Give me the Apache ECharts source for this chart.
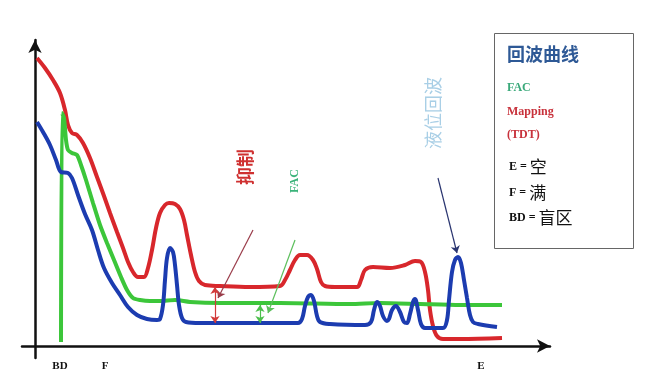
<!DOCTYPE html>
<html><head><meta charset="utf-8">
<script src="https://cdn.jsdelivr.net/npm/echarts@6/dist/echarts.min.js"></script>
<style>html,body{margin:0;padding:0;background:#fff}#c{width:660px;height:384px}</style>
</head><body><div id="c"></div>
<script>
// Echo curves (x: distance, y: amplitude) in arbitrary units
const redCurve = [[2,288],[10,278],[18,266],[25,253],[30,236],[33,221],[37,213],[42,211],[48,203],[55,188],[62,169],[69,150],[75,133],[82,114],[88,98],[93,84],[98,74],[103,69],[109,69],[113,78],[117,96],[121,118],[125,133],[130,141],[134,143],[140,142],[145,137],[149,126],[152,111],[156,91],[160,74],[164,65],[170,61],[185,60],[215,59],[245,60],[250,66],[255,76],[260,86],[265,91],[272,91],[278,86],[282,77],[286,64],[290,60],[300,59],[322,59],[326,66],[330,76],[338,79],[355,78],[370,81],[380,85],[386,84],[390,74],[393,56],[395,36],[398,20],[402,10],[408,7],[425,7],[467,8]];
const greenCurve = [[26,4],[27,233],[29,228],[31,206],[33,196],[37,193],[42,191],[46,181],[51,166],[58,143],[65,121],[72,103],[79,86],[86,69],[92,56],[98,48],[105,46],[115,45],[125,45],[140,46],[155,44],[185,43],[245,43],[315,42],[345,43],[385,42],[425,41],[467,41]];
const blueCurve = [[2,224],[8,214],[15,201],[21,186],[26,174],[33,173],[37,168],[43,151],[50,132],[57,116],[63,96],[69,78],[77,63],[85,51],[93,39],[102,31],[112,27],[122,26],[125,27],[128,41],[130,66],[132,88],[135,98],[138,94],[140,81],[142,61],[144,41],[147,28],[151,24],[165,23],[215,23],[263,23],[267,27],[270,40],[273,49],[276,51],[279,45],[282,30],[285,24],[295,22],[330,21],[336,24],[339,36],[342,44],[345,40],[348,30],[352,25],[354,27],[357,36],[361,40],[365,34],[369,24],[372,23],[375,32],[378,44],[380,47],[383,36],[386,22],[390,18],[408,18],[412,26],[414,46],[417,74],[420,86],[423,89],[426,83],[429,66],[432,48],[435,31],[438,24],[443,22],[462,19]];
// x-axis tick labels
const tickValues = [25, 70, 446];
const tickNames = ['BD', 'F', 'E'];
// annotation arrows [from, to]
const suppressArrow = [[218,116],[183,48]];
const facArrow = [[260,106],[233,33]];
const levelArrow = [[403,168],[422,93]];
const suppressGap = [[180,59],[180,23]];
const facGap = [[225,41],[225,23]];

const serif = '"Liberation Serif","DejaVu Serif",serif';
const cjk = '"Noto Sans CJK SC","Noto Sans",sans-serif';

function arrowLine(pair, color, width, symbols) {
  return [{coord: pair[0], symbol: symbols[0], lineStyle: {color: color, width: width, type: 'solid'}},
          {coord: pair[1], symbol: symbols[1]}];
}

const chart = echarts.init(document.getElementById('c'), null, {renderer: 'canvas'});
chart.setOption({
  animation: false,
  backgroundColor: '#fff',
  grid: {left: 22, right: 110, top: 40, bottom: 26},
  xAxis: {
    type: 'value', min: -13, max: 515,
    splitLine: {show: false},
    axisTick: {show: false},
    axisLine: {onZero: true, symbol: ['none', 'arrow'], symbolSize: [10, 13], lineStyle: {color: '#111', width: 2.5}},
    axisLabel: {
      customValues: tickValues, margin: 3,
      color: '#111', fontFamily: serif, fontWeight: 'bold', fontSize: 11,
      formatter: v => tickNames[tickValues.indexOf(v)] || ''
    }
  },
  yAxis: {
    type: 'value', min: -12, max: 306,
    splitLine: {show: false},
    axisTick: {show: false},
    axisLabel: {show: false},
    axisLine: {onZero: true, symbol: ['none', 'arrow'], symbolSize: [10, 13], lineStyle: {color: '#111', width: 2.5}}
  },
  series: [
    {type: 'line', name: 'Mapping', data: redCurve, showSymbol: false, smooth: 0.35,
     lineStyle: {color: '#d8272c', width: 4}},
    {type: 'line', name: 'FAC', data: greenCurve, showSymbol: false, smooth: 0.25,
     lineStyle: {color: '#3cc63a', width: 4}},
    {type: 'line', name: 'Echo', data: blueCurve, showSymbol: false, smooth: 0.35,
     lineStyle: {color: '#1c3cb0', width: 4},
     markLine: {
       silent: true, symbolSize: 7, label: {show: false},
       data: [
         arrowLine(suppressArrow, '#9a3c4a', 1.2, ['none', 'arrow']),
         arrowLine(facArrow, '#5cbf5c', 1.2, ['none', 'arrow']),
         arrowLine(levelArrow, '#2a3570', 1.2, ['none', 'arrow']),
         arrowLine(suppressGap, '#d23a3a', 1.2, ['arrow', 'arrow']),
         arrowLine(facGap, '#4cbf4c', 1.2, ['arrow', 'arrow'])
       ]
     }}
  ],
  graphic: [
    {type: 'text', x: 245, y: 167, rotation: Math.PI / 2,
     style: {text: '抑制', fill: '#cf3030', font: 'bold 18px ' + cjk, align: 'center', verticalAlign: 'middle'}},
    {type: 'text', x: 295, y: 181, rotation: Math.PI / 2,
     style: {text: 'FAC', fill: '#3bb37a', font: 'bold 12px ' + serif, align: 'center', verticalAlign: 'middle'}},
    {type: 'text', x: 433, y: 113, rotation: Math.PI / 2,
     style: {text: '液位回波', fill: '#a9cfe6', font: '18px ' + cjk, align: 'center', verticalAlign: 'middle'}},
    {type: 'rect', shape: {x: 494.5, y: 33.5, width: 139, height: 215},
     style: {fill: '#fff', stroke: '#666', lineWidth: 1}},
    {type: 'text', x: 507, y: 54,
     style: {text: '回波曲线', fill: '#2e5996', font: 'bold 18px ' + cjk, verticalAlign: 'middle'}},
    {type: 'text', x: 507, y: 88,
     style: {text: 'FAC', fill: '#3aa97a', font: 'bold 12px ' + serif, verticalAlign: 'middle'}},
    {type: 'text', x: 507, y: 112,
     style: {text: 'Mapping', fill: '#c8323c', font: 'bold 12px ' + serif, verticalAlign: 'middle'}},
    {type: 'text', x: 507, y: 135,
     style: {text: '(TDT)', fill: '#c8323c', font: 'bold 12px ' + serif, verticalAlign: 'middle'}},
    {type: 'text', x: 509, y: 167,
     style: {text: '{a|E = }{b|空}', verticalAlign: 'middle',
       rich: {a: {font: 'bold 12px ' + serif, fill: '#111'}, b: {font: '17px ' + cjk, fill: '#111'}}}},
    {type: 'text', x: 509, y: 193,
     style: {text: '{a|F = }{b|满}', verticalAlign: 'middle',
       rich: {a: {font: 'bold 12px ' + serif, fill: '#111'}, b: {font: '17px ' + cjk, fill: '#111'}}}},
    {type: 'text', x: 509, y: 218,
     style: {text: '{a|BD = }{b|盲区}', verticalAlign: 'middle',
       rich: {a: {font: 'bold 12px ' + serif, fill: '#111'}, b: {font: '17px ' + cjk, fill: '#111'}}}}
  ]
});
</script>
</body></html>
